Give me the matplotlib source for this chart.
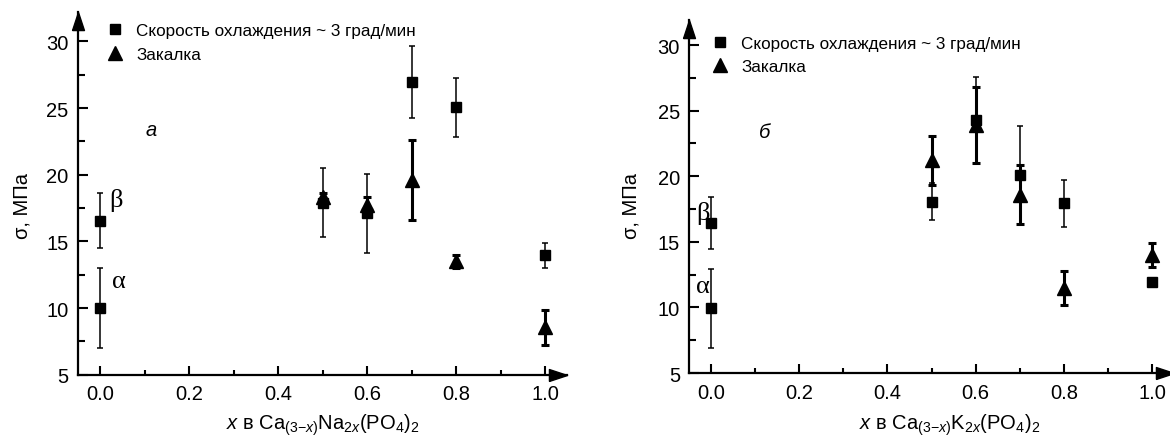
import matplotlib
matplotlib.use("Agg")
import matplotlib.pyplot as plt
from matplotlib.lines import Line2D
from matplotlib.ticker import MultipleLocator

plt.rcParams['font.family'] = ['Liberation Sans', 'DejaVu Sans']
plt.rcParams['mathtext.fontset'] = 'custom'
plt.rcParams['mathtext.rm'] = 'Liberation Sans'
plt.rcParams['mathtext.it'] = 'Liberation Sans:italic'

# ---------------- data ----------------
# panel a: Ca(3-x)Na2x(PO4)2
x_sq_a = [0.0, 0.0, 0.5, 0.6, 0.7, 0.8, 1.0]
y_sq_a = [16.55, 10.0, 17.9, 17.1, 26.95, 25.05, 13.95]
e_sq_a = [2.05, 3.0, 2.6, 2.95, 2.7, 2.2, 0.95]
x_tr_a = [0.5, 0.6, 0.7, 0.8, 1.0]
y_tr_a = [18.35, 17.7, 19.6, 13.5, 8.55]
e_tr_a = [0.3, 0.6, 3.0, 0.5, 1.3]

# panel b: Ca(3-x)K2x(PO4)2
x_sq_b = [0.0, 0.0, 0.5, 0.6, 0.7, 0.8, 1.0]
y_sq_b = [16.45, 9.92, 18.07, 24.3, 20.1, 17.93, 11.97]
e_sq_b = [2.0, 3.0, 1.4, 3.3, 3.75, 1.8, 0.3]
x_tr_b = [0.5, 0.6, 0.7, 0.8, 1.0]
y_tr_b = [21.2, 23.9, 18.6, 11.5, 14.0]
e_tr_b = [1.9, 2.9, 2.25, 1.3, 0.93]

legend_labels = ["Скорость охлаждения ~ 3 град/мин", "Закалка"]
xticks = [0.0, 0.2, 0.4, 0.6, 0.8, 1.0]
yticks = [5, 10, 15, 20, 25, 30]

W, H = 1170, 439
fig = plt.figure(figsize=(W / 100, H / 100), dpi=100)


def px_axes(x0, x1, ytop, ybot):
    return fig.add_axes([x0 / W, 1 - ybot / H, (x1 - x0) / W, (ybot - ytop) / H])


axA = px_axes(77.75, 567.25, 13.3, 375.7)
axB = px_axes(689.0, 1174.1, 20.7, 374.0)

up_arrow = [(-0.33, -1), (0.33, -1), (0, 0), (-0.33, -1)]
right_arrow = [(-1, -0.33), (-1, 0.33), (0, 0), (-1, -0.33)]


def style(ax, ytop, panel_letter, xlabel, xlab_x, xlab_y, ylab_x, ylab_y,
          leg_anchor, greek):
    ax.set_xlim(-0.05, 1.05)
    ax.set_ylim(5, ytop)
    for s in ['top', 'right']:
        ax.spines[s].set_visible(False)
    for s in ['left', 'bottom']:
        ax.spines[s].set_linewidth(1.6)
    ax.set_xticks(xticks)
    ax.set_yticks(yticks)
    ax.xaxis.set_minor_locator(MultipleLocator(0.1))
    ax.yaxis.set_minor_locator(MultipleLocator(2.5))
    ax.tick_params(axis='x', which='major', direction='in', length=6.5, width=1.5,
                   labelsize=14.5, pad=7)
    ax.tick_params(axis='x', which='minor', direction='in', length=3.5, width=1.5)
    ax.tick_params(axis='y', which='major', direction='in', length=7.5, width=1.5,
                   labelsize=14.5, pad=6.5)
    ax.tick_params(axis='y', which='minor', direction='in', length=5, width=1.5)
    ax.xaxis.set_major_formatter(matplotlib.ticker.FormatStrFormatter('%.1f'))
    # arrows
    ax.plot([0], [1], marker=up_arrow, markersize=26, color='black',
            transform=ax.transAxes, clip_on=False, zorder=5)
    ax.plot([1], [0], marker=right_arrow, markersize=26, color='black',
            transform=ax.transAxes, clip_on=False, zorder=5)
    ax.set_xlabel(xlabel, fontsize=14.5)
    ax.xaxis.set_label_coords(xlab_x, xlab_y)
    ax.set_ylabel("σ, МПа", fontsize=14.5)
    ax.yaxis.set_label_coords(ylab_x, ylab_y)
    ax.text(panel_letter[1], panel_letter[2], panel_letter[0], fontsize=14.5,
            style='italic', ha='center', va='baseline')
    for g, gx, gy in greek:
        ax.text(gx, gy, g, fontsize=19, family='Liberation Serif', ha='center',
                va='baseline')
    handles = [Line2D([], [], ls='none', marker='s', ms=7.5, color='black'),
               Line2D([], [], ls='none', marker='^', ms=9.5, color='black')]
    ax.legend(handles, legend_labels, loc='upper left', bbox_to_anchor=leg_anchor,
              frameon=False, fontsize=12.3, handlelength=1.0, handletextpad=0.73,
              borderaxespad=0, borderpad=0, labelspacing=0.5)


def draw(ax, xs, ys, es, xt, yt, et):
    ax.errorbar(xs, ys, yerr=es, fmt='s', ms=7.5, color='black', ecolor='black',
                elinewidth=1.1, capsize=2.4, capthick=1.1, zorder=3)
    ax.errorbar(xt, yt, yerr=et, fmt='^', ms=9.5, color='black', ecolor='black',
                elinewidth=2.2, capsize=3.2, capthick=2.2, zorder=4)


draw(axA, x_sq_a, y_sq_a, e_sq_a, x_tr_a, y_tr_a, e_tr_a)
draw(axB, x_sq_b, y_sq_b, e_sq_b, x_tr_b, y_tr_b, e_tr_b)

style(axA, 32.19, ("а", 0.115, 22.95),
      r"$\mathit{x}$ в Ca$_{(3\mathit{-x})}$Na$_{2\mathit{x}}$(PO$_4$)$_2$",
      0.5, -0.101, -0.0935, 0.468, (0.0587, 0.97),
      [("β", 0.036, 17.66), ("α", 0.043, 11.56)])
style(axB, 31.93, ("б", 0.121, 22.97),
      r"$\mathit{x}$ в Ca$_{(3\mathit{-x})}$K$_{2\mathit{x}}$(PO$_4$)$_2$",
      0.538, -0.109, -0.099, 0.475, (0.0464, 0.955),
      [("β", -0.019, 16.75), ("α", -0.018, 11.17)])

fig.savefig("out.png", dpi=100)
